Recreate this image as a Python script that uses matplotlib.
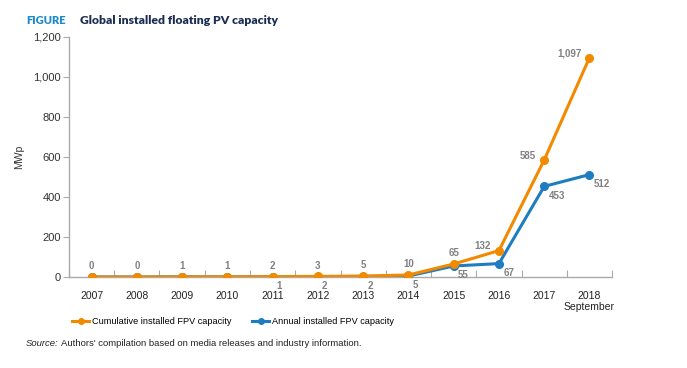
import matplotlib
matplotlib.use("Agg")
import matplotlib.pyplot as plt
from matplotlib.lines import Line2D

years = ["2007", "2008", "2009", "2010", "2011", "2012", "2013", "2014", "2015", "2016", "2017", "2018\nSeptember"]
cumulative = [0, 0, 1, 1, 2, 3, 5, 10, 65, 132, 585, 1097]
annual = [0, 0, 1, 0, 1, 2, 2, 5, 55, 67, 453, 512]
annual_labeled = [False, False, False, False, True, True, True, True, True, True, True, True]
yticks = [0, 200, 400, 600, 800, 1000, 1200]

ORANGE = "#F28A00"
BLUE = "#1E7DC0"
GREY = "#808080"
plt.rcParams['font.family'] = ['Liberation Sans', 'DejaVu Sans']

fig = plt.figure(figsize=(6.87, 3.68), dpi=100)
ax = fig.add_axes([0.1004, 0.2473, 0.7906, 0.6522])
x = list(range(len(years)))

ax.plot(x, annual, color=BLUE, lw=2.2, marker="o", ms=5.5, zorder=3)
ax.plot(x, cumulative, color=ORANGE, lw=2.2, marker="o", ms=5.5, zorder=4)

for i, v in enumerate(cumulative):
    if i >= 9:
        ax.annotate(f"{v:,}", (i, v), xytext=(-6, 3), textcoords="offset points",
                    ha="right", va="center", fontsize=7, color=GREY, fontweight="bold")
    else:
        ax.annotate(f"{v:,}", (i, v), xytext=(0, 4), textcoords="offset points",
                    ha="center", va="bottom", fontsize=7, color=GREY, fontweight="bold")
for i, v in enumerate(annual):
    if annual_labeled[i]:
        ax.annotate(f"{v:,}", (i, v), xytext=(3, -3), textcoords="offset points",
                    ha="left", va="top", fontsize=7, color=GREY, fontweight="bold")

ax.set_xlim(-0.5, len(years) - 0.5)
ax.set_ylim(0, 1200)
ax.set_yticks(yticks)
ax.set_yticklabels([f"{t:,}" for t in yticks], fontsize=8, color="#333333")
ax.set_xticks([i - 0.5 for i in range(len(years) + 1)], minor=False)
ax.set_xticklabels([])
ax.set_xticks(x, minor=True)
ax.set_xticklabels(years, minor=True, fontsize=7.5, color="#222222", va="top")
ax.tick_params(axis="x", which="major", direction="in", length=5, color="#aaaaaa", width=0.8)
ax.tick_params(axis="x", which="minor", length=0, pad=10)
ax.tick_params(axis="y", direction="out", length=4, color="#aaaaaa", width=0.8, pad=2)
for s in ["top", "right"]:
    ax.spines[s].set_visible(False)
for s in ["left", "bottom"]:
    ax.spines[s].set_color("#aaaaaa")
    ax.spines[s].set_linewidth(1)
ax.set_ylabel("MWp", fontsize=7.5, color="#333333", labelpad=6)

fig.text(26/687, 1 - 20/368, "FIGURE", fontsize=8, fontweight="heavy", color="#1E8AC8",
         va="center", ha="left", family=["Lato", "DejaVu Sans"])
fig.text(80/687, 1 - 20/368, "Global installed floating PV capacity", fontsize=8.7, fontweight="heavy",
         color="#1B2E52", va="center", ha="left", family=["Lato", "DejaVu Sans"])

handles = [Line2D([0], [0], color=ORANGE, lw=2.2, marker="o", ms=4),
           Line2D([0], [0], color=BLUE, lw=2.2, marker="o", ms=4)]
fig.legend(handles, ["Cumulative installed FPV capacity", "Annual installed FPV capacity"],
           loc="center", bbox_to_anchor=(233/687, 1 - 322/368), ncol=2, frameon=False,
           fontsize=6.6, handlelength=1.9, handletextpad=0.3, columnspacing=2.2)

src = fig.text(26/687, 1 - 344/368, "Source:", fontsize=6.8, style="italic", color="#222222",
               va="center", ha="left")
fig.canvas.draw()
bb = src.get_window_extent()
fig.text(bb.x1 / fig.bbox.width + 0.003, 1 - 344/368,
         "Authors' compilation based on media releases and industry information.",
         fontsize=6.8, color="#222222", va="center", ha="left")

fig.savefig("out.png", dpi=100)
